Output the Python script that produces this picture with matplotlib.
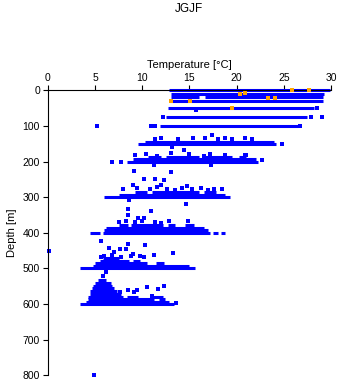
import matplotlib
matplotlib.use("Agg")
import matplotlib.pyplot as plt

plt.rcParams['font.family'] = ['Liberation Sans', 'DejaVu Sans']

# dense bands of samples: depth [m], temperature start / end [C]
seg_depth = [0, 10, 20, 20, 30, 50, 75, 100,
             150, 145,
             200, 194, 188, 188, 188, 188,
             300, 293, 286, 286, 286,
             400, 400, 400, 400, 393, 386, 379, 379, 379, 379,
             500, 493, 486, 486, 479, 479, 472,
             600, 593, 586, 586, 579, 579, 579, 572, 564, 556, 548, 540, 532]
seg_t0 = [12.8, 13.0, 13.0, 16.6, 12.9, 12.7, 12.5, 11.9,
          9.6, 10.3,
          8.4, 9.0, 10.6, 12.5, 16.6, 20.3,
          6.0, 7.5, 9.2, 11.0, 16.5,
          4.5, 5.8, 17.5, 18.3, 6.0, 6.2, 7.5, 8.8, 12.7, 14.5,
          3.4, 4.8, 5.0, 11.5, 5.5, 9.0, 5.8,
          3.4, 4.1, 4.3, 11.8, 4.3, 8.4, 10.8, 4.5, 4.5, 4.7, 4.8, 5.0, 5.3]
seg_t1 = [29.9, 29.2, 16.0, 29.1, 29.1, 28.2, 27.5, 26.5,
          24.2, 24.0,
          22.3, 22.0, 12.0, 16.0, 19.5, 21.0,
          19.3, 18.8, 10.5, 16.0, 17.8,
          5.5, 17.2, 18.0, 18.8, 17.0, 16.5, 8.5, 12.2, 13.5, 15.5,
          15.6, 15.0, 10.5, 12.3, 8.6, 9.8, 7.5,
          13.4, 12.8, 11.2, 12.4, 8.0, 9.6, 12.2, 7.8, 7.3, 7.0, 6.8, 6.7, 6.2]

# single samples
pt_temp = [28.5, 15.7, 12.2, 27.9, 29.0, 26.7, 10.9, 11.4, 5.2,
           11.4, 12.0, 13.8, 15.4, 16.6, 18.0, 18.8, 19.5, 20.9, 21.6, 17.4, 24.8,
           9.2, 10.4, 11.6, 13.0, 15.0, 16.5, 17.2, 18.8, 20.9, 14.4, 13.2, 21.0, 22.7, 6.8, 7.8,
           9.1, 10.2, 11.4, 12.3, 13.0, 11.2, 17.3,
           8.0, 9.5, 10.8, 11.6, 12.6, 13.5, 14.2, 15.3, 16.2, 17.6, 18.4,
           9.0, 12.0, 14.7, 17.0, 8.6, 14.6,
           7.5, 8.3, 9.2, 10.0, 11.4, 12.0, 14.8,
           8.5, 8.5, 10.9, 9.6, 10.2, 12.8, 7.5, 0.1,
           6.0, 6.8, 7.8, 8.8, 9.8, 11.2,
           5.6, 6.5, 7.0, 7.7, 8.3, 8.5, 9.0, 10.3, 13.3, 5.6, 10.2,
           6.2, 5.9, 8.5, 9.5, 10.5, 11.7, 12.3, 7.7, 9.1, 11.0, 13.6, 4.9]
pt_depth = [50, 55, 75, 75, 75, 100, 100, 100, 100,
            136, 133, 137, 134, 135, 138, 134, 136, 133, 137, 125, 150,
            182, 179, 183, 177, 180, 184, 179, 182, 181, 168, 159, 181, 196, 200, 200,
            227, 249, 249, 253, 230, 211, 211,
            278, 274, 277, 272, 276, 279, 274, 277, 275, 278, 276,
            266, 266, 268, 280, 309, 320,
            370, 367, 371, 366, 369, 372, 368,
            350, 334, 340, 359, 359, 368, 371, 450,
            466, 463, 467, 464, 466, 463,
            423, 442, 454, 446, 446, 431, 460, 434, 457, 468, 468,
            511, 521, 560, 560, 551, 558, 549, 567, 567, 577, 596, 800]

# flagged samples (orange)
flag_temp = [25.9, 27.7, 20.9, 20.4, 23.3, 24.1, 13.1, 15.1, 19.5]
flag_depth = [0, 0, 8, 11, 21, 21, 30, 30, 50]

fig = plt.figure(figsize=(3.41, 3.84), dpi=100)
ax = fig.add_axes([0.140, 0.0227, 0.831, 0.7421])

ax.hlines(seg_depth, seg_t0, seg_t1, color='#0000FF', lw=2.2, clip_on=False)
ax.scatter(pt_temp, pt_depth, s=5, marker='s', color='#0000FF', linewidths=0, clip_on=False)
ax.scatter(flag_temp, flag_depth, s=6, marker='s', color='#FFA500', linewidths=0, clip_on=False, zorder=3)

ax.set_xlim(0, 30)
ax.set_ylim(800, 0)
ax.xaxis.tick_top()
ax.xaxis.set_label_position('top')
ax.set_xticks([0, 5, 10, 15, 20, 25, 30])
ax.set_yticks([0, 100, 200, 300, 400, 500, 600, 700, 800])
ax.tick_params(labelsize=7.5, length=3.6, width=0.8, pad=2)
ax.spines['right'].set_visible(False)
ax.spines['bottom'].set_visible(False)
ax.spines['top'].set_linewidth(0.8)
ax.spines['left'].set_linewidth(0.8)
ax.set_xlabel('Temperature [°C]', fontsize=8, labelpad=3)
ax.set_ylabel('Depth [m]', fontsize=8, labelpad=4)
fig.text(0.553, 0.977, 'JGJF', ha='center', va='center', fontsize=8.5)

plt.savefig('out.png', dpi=100)
